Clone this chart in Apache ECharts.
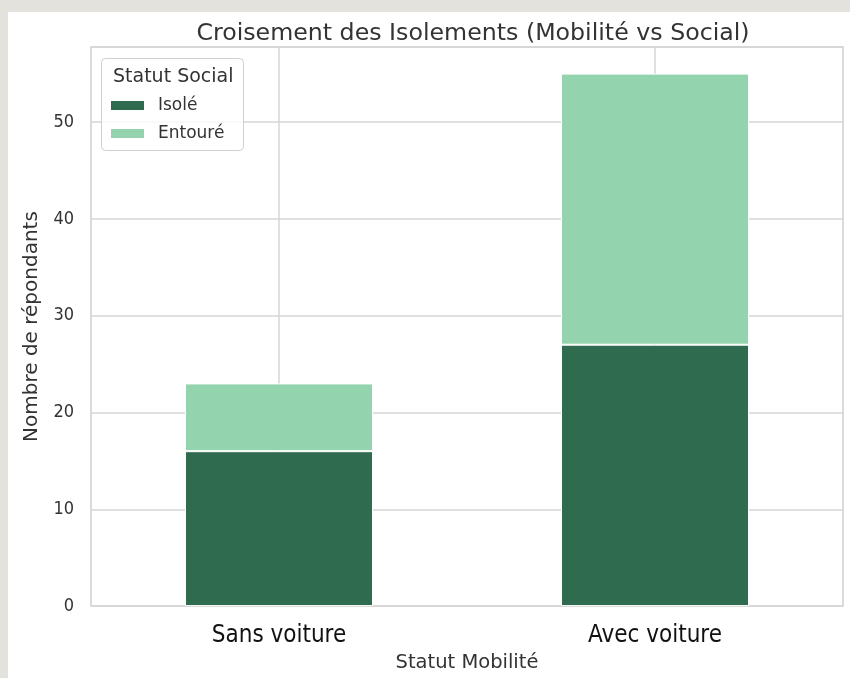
<!DOCTYPE html>
<html><head><meta charset="utf-8">
<script src="https://cdn.jsdelivr.net/npm/echarts@6/dist/echarts.min.js"></script>
<style>
html,body{margin:0;padding:0;background:#e3e2dc;width:850px;height:678px;overflow:hidden}
#c{position:absolute;left:8px;top:12px;width:842px;height:666px;background:#fff}
</style></head><body>
<div id="c"></div>
<script>
const categories = ['Sans voiture', 'Avec voiture'];
const isole = [16, 27];
const entoure = [7, 28];
const seriesNames = ['Isolé', 'Entouré'];
const yTicks = [0, 10, 20, 30, 40, 50];

const chart = echarts.init(document.getElementById('c'), null, {renderer: 'canvas'});
const gridCol = '#d6d6d6';
const txt = '#333333';
chart.setOption({
  animation: false,
  backgroundColor: '#ffffff',
  title: [{
    text: 'Croisement des Isolements (Mobilité vs Social)',
    left: 460, top: 5, textAlign: 'center',
    textStyle: {fontFamily: 'DejaVu Sans', fontSize: 23.7, fontWeight: 'normal', color: txt}
  }, {
    text: 'Statut Social', left: 100, top: 51, z: 10,
    textStyle: {fontFamily: 'DejaVu Sans', fontSize: 19, fontWeight: 'normal', color: txt}
  }],
  graphic: [{
    type: 'rect', left: 93, top: 46, z: 4,
    shape: {width: 142, height: 92, r: 4},
    style: {fill: 'rgba(255,255,255,0.8)', stroke: '#d0d0d0', lineWidth: 1}
  }],
  legend: {
    data: seriesNames, orient: 'vertical', left: 96, top: 80, z: 20,
    itemWidth: 35, itemHeight: 11, itemGap: 11, icon: 'rect',
    textStyle: {fontFamily: 'DejaVu Sans', fontSize: 17, color: txt, padding: [0, 0, 0, 8]}
  },
  grid: {left: 83, right: 7, top: 35, bottom: 68, show: true, borderColor: '#cfcfcf', borderWidth: 1.5},
  xAxis: {
    type: 'category', data: categories,
    name: 'Statut Mobilité', nameLocation: 'middle', nameGap: 46,
    nameTextStyle: {fontFamily: 'DejaVu Sans', fontSize: 19.5, color: txt},
    axisLine: {show: false}, axisTick: {show: false},
    axisLabel: {fontFamily: 'Liberation Sans Narrow, DejaVu Sans Condensed, sans-serif', fontSize: 24, color: '#111', margin: 18},
    splitLine: {show: false}
  },
  yAxis: {
    type: 'value', min: 0, max: 57.75, interval: 10,
    name: 'Nombre de répondants', nameLocation: 'middle', nameGap: 49,
    nameTextStyle: {fontFamily: 'DejaVu Sans', fontSize: 20, color: txt},
    axisLine: {show: false}, axisTick: {show: false},
    axisLabel: {fontFamily: 'DejaVu Sans Condensed, DejaVu Sans', fontSize: 18, color: txt, margin: 17, showMaxLabel: false},
    splitLine: {lineStyle: {color: gridCol, width: 1.5}}
  },
  series: [{
    type: 'line', data: [], z: 1, silent: true,
    markLine: {silent: true, symbol: 'none', z: 1, label: {show: false},
      lineStyle: {color: gridCol, width: 1.5, type: 'solid'},
      data: categories.map(c => ({xAxis: c}))}
  }, {
    name: seriesNames[0], type: 'bar', stack: 's', data: isole, barWidth: '50%', z: 3,
    itemStyle: {color: '#2e6b4f', borderColor: '#ffffff', borderWidth: 1}
  }, {
    name: seriesNames[1], type: 'bar', stack: 's', data: entoure, barWidth: '50%', z: 3,
    itemStyle: {color: '#93d3ae', borderColor: '#ffffff', borderWidth: 1}
  }]
});
</script></body></html>
